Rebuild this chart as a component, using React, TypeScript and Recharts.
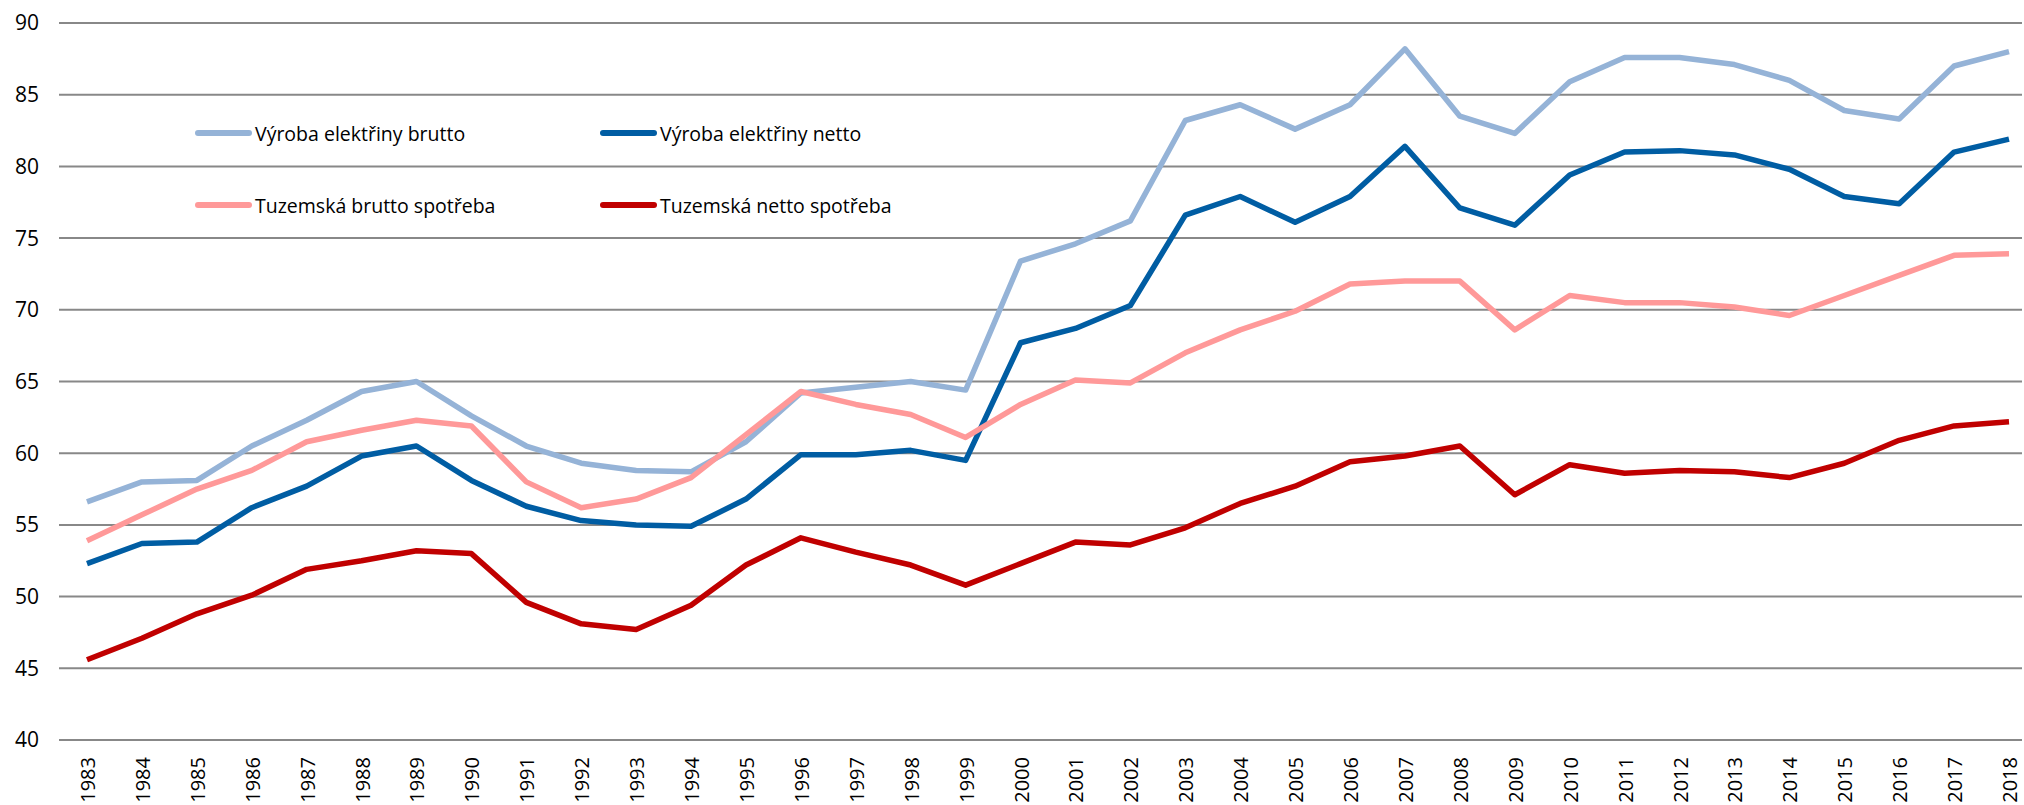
import { LineChart, Line, XAxis, YAxis, CartesianGrid } from "recharts";

const years = [
  "1983", "1984", "1985", "1986", "1987", "1988", "1989", "1990", "1991", "1992",
  "1993", "1994", "1995", "1996", "1997", "1998", "1999", "2000", "2001", "2002",
  "2003", "2004", "2005", "2006", "2007", "2008", "2009", "2010", "2011", "2012",
  "2013", "2014", "2015", "2016", "2017", "2018",
];

const vyrobaBrutto = [
  56.6, 58.0, 58.1, 60.5, 62.3, 64.3, 65.0, 62.6, 60.5, 59.3,
  58.8, 58.7, 60.8, 64.2, 64.6, 65.0, 64.4, 73.4, 74.6, 76.2,
  83.2, 84.3, 82.6, 84.3, 88.2, 83.5, 82.3, 85.9, 87.6, 87.6,
  87.1, 86.0, 83.9, 83.3, 87.0, 88.0,
];

const vyrobaNetto = [
  52.3, 53.7, 53.8, 56.2, 57.7, 59.8, 60.5, 58.1, 56.3, 55.3,
  55.0, 54.9, 56.8, 59.9, 59.9, 60.2, 59.5, 67.7, 68.7, 70.3,
  76.6, 77.9, 76.1, 77.9, 81.4, 77.1, 75.9, 79.4, 81.0, 81.1,
  80.8, 79.8, 77.9, 77.4, 81.0, 81.9,
];

const spotrebaBrutto = [
  53.9, 55.7, 57.5, 58.8, 60.8, 61.6, 62.3, 61.9, 58.0, 56.2,
  56.8, 58.3, 61.3, 64.3, 63.4, 62.7, 61.1, 63.4, 65.1, 64.9,
  67.0, 68.6, 69.9, 71.8, 72.0, 72.0, 68.6, 71.0, 70.5, 70.5,
  70.2, 69.6, 71.0, 72.4, 73.8, 73.9,
];

const spotrebaNetto = [
  45.6, 47.1, 48.8, 50.1, 51.9, 52.5, 53.2, 53.0, 49.6, 48.1,
  47.7, 49.4, 52.2, 54.1, 53.1, 52.2, 50.8, 52.3, 53.8, 53.6,
  54.8, 56.5, 57.7, 59.4, 59.8, 60.5, 57.1, 59.2, 58.6, 58.8,
  58.7, 58.3, 59.3, 60.9, 61.9, 62.2,
];

const yTicks = [40, 45, 50, 55, 60, 65, 70, 75, 80, 85, 90];

const series = [
  { key: "vb", name: "Výroba elektřiny brutto", color: "#95B3D7" },
  { key: "vn", name: "Výroba elektřiny netto", color: "#005DA3" },
  { key: "sb", name: "Tuzemská brutto spotřeba", color: "#FF9999" },
  { key: "sn", name: "Tuzemská netto spotřeba", color: "#C00000" },
];

const data = years.map((y, i) => ({
  year: y,
  vb: vyrobaBrutto[i],
  vn: vyrobaNetto[i],
  sb: spotrebaBrutto[i],
  sn: spotrebaNetto[i],
}));

const font = "'Open Sans', 'Liberation Sans', sans-serif";

function YearTick(props: any) {
  const { x, payload } = props;
  return (
    <text
      transform={`translate(${x + 8}, 757) rotate(-90)`}
      textAnchor="end"
      fontFamily={font}
      fontSize={20}
      fill="#000"
    >
      {payload.value}
    </text>
  );
}

function LegendBox() {
  return (
    <div
      style={{
        position: "absolute",
        left: 195,
        top: 119,
        display: "grid",
        gridTemplateColumns: "405px 320px",
        rowGap: 44,
        fontFamily: font,
        fontSize: 19.5,
        color: "#000",
        whiteSpace: "nowrap",
      }}
    >
      {series.map((s) => (
        <div key={s.key} style={{ display: "flex", alignItems: "center", height: 28 }}>
          <span
            style={{
              display: "inline-block",
              width: 57,
              height: 6,
              borderRadius: 3,
              background: s.color,
              marginRight: 3,
            }}
          />
          <span>{s.name}</span>
        </div>
      ))}
    </div>
  );
}

export default function App() {
  return (
    <div style={{ position: "absolute", left: 0, top: 0, width: 2024, height: 805, background: "#fff" }}>
      <LineChart
        width={2024}
        height={805}
        data={data}
        margin={{ top: 23, right: 2, left: 0, bottom: 0 }}
      >
        <CartesianGrid vertical={false} stroke="#888888" strokeWidth={2} />
        <XAxis
          dataKey="year"
          interval={0}
          axisLine={false}
          tickLine={false}
          height={65}
          padding={{ left: 28, right: 13 }}
          tick={<YearTick />}
        />
        <YAxis
          domain={[40, 90]}
          ticks={yTicks}
          axisLine={false}
          tickLine={false}
          width={59}
          tickMargin={14}
          tick={{ fontFamily: font, fontSize: 21, fill: "#000" }}
        />
        {series.map((s) => (
          <Line
            key={s.key}
            type="linear"
            dataKey={s.key}
            name={s.name}
            stroke={s.color}
            strokeWidth={5.5}
            strokeLinejoin="round"
            dot={false}
            activeDot={false}
            isAnimationActive={false}
          />
        ))}
      </LineChart>
      <LegendBox />
    </div>
  );
}
